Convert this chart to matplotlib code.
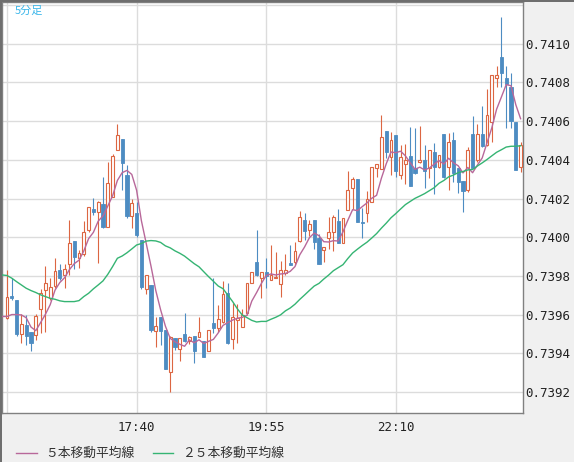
import numpy as np
import pandas as pd
import matplotlib
matplotlib.use('Agg')
from matplotlib import pyplot as plt
from matplotlib.lines import Line2D

# 5-minute candles, 15:25 .. 00:20 (108 bars)
opens = [
    0.739581, 0.739696, 0.739676, 0.739500, 0.739547, 0.739509, 0.739495, 0.739627, 0.739727, 0.739684,
    0.739750, 0.739831, 0.739802, 0.739860, 0.739981, 0.739891, 0.739912, 0.740038, 0.740144, 0.740132,
    0.740172, 0.740055, 0.740210, 0.740451, 0.740508, 0.740322, 0.740112, 0.740127, 0.739986, 0.739731,
    0.739753, 0.739517, 0.739586, 0.739521, 0.739305, 0.739478, 0.739421, 0.739500, 0.739465, 0.739490,
    0.739483, 0.739465, 0.739409, 0.739555, 0.739529, 0.739564, 0.739710, 0.739472, 0.739572, 0.739534,
    0.739607, 0.739762, 0.739870, 0.739787, 0.739818, 0.739778, 0.739790, 0.739756, 0.739813, 0.739865,
    0.739873, 0.739980, 0.740089, 0.740035, 0.740089, 0.739997, 0.739933, 0.739997, 0.740025, 0.740083,
    0.739968, 0.740139, 0.740252, 0.740300, 0.740080, 0.740123, 0.740180, 0.740356, 0.740350, 0.740549,
    0.740416, 0.740528, 0.740321, 0.740378, 0.740419, 0.740356, 0.740390, 0.740399, 0.740356, 0.740442,
    0.740361, 0.740533, 0.740364, 0.740502, 0.740356, 0.740290, 0.740244, 0.740533, 0.740399, 0.740536,
    0.740476, 0.740597, 0.740821, 0.740933, 0.740821, 0.740778, 0.740597, 0.740361,
]
highs = [
    0.739831, 0.739791, 0.739676, 0.739602, 0.739598, 0.739509, 0.739602, 0.739733, 0.739851, 0.739788,
    0.739891, 0.739862, 0.739862, 0.740089, 0.739981, 0.739934, 0.740084, 0.740155, 0.740205, 0.740187,
    0.740313, 0.740391, 0.740429, 0.740585, 0.740508, 0.740374, 0.740196, 0.740184, 0.739986, 0.739803,
    0.739753, 0.739586, 0.739586, 0.739521, 0.739489, 0.739481, 0.739478, 0.739607, 0.739491, 0.739490,
    0.739589, 0.739465, 0.739521, 0.739788, 0.739650, 0.739774, 0.739762, 0.739658, 0.739655, 0.739627,
    0.739762, 0.739822, 0.740037, 0.739821, 0.739890, 0.739959, 0.739925, 0.739877, 0.739911, 0.739959,
    0.739973, 0.740135, 0.740125, 0.740089, 0.740089, 0.740014, 0.739951, 0.740106, 0.740114, 0.740145,
    0.740097, 0.740342, 0.740313, 0.740300, 0.740149, 0.740238, 0.740364, 0.740376, 0.740631, 0.740549,
    0.740544, 0.740528, 0.740476, 0.740481, 0.740568, 0.740562, 0.740574, 0.740476, 0.740450, 0.740485,
    0.740424, 0.740533, 0.740540, 0.740545, 0.740356, 0.740290, 0.740468, 0.740626, 0.740585, 0.740678,
    0.740767, 0.740838, 0.740885, 0.741136, 0.740885, 0.740847, 0.740597, 0.740493,
]
lows = [
    0.739578, 0.739676, 0.739491, 0.739452, 0.739443, 0.739409, 0.739469, 0.739503, 0.739512, 0.739676,
    0.739736, 0.739779, 0.739739, 0.739805, 0.739836, 0.739839, 0.739905, 0.740029, 0.740115, 0.739865,
    0.740046, 0.740055, 0.740210, 0.740451, 0.740244, 0.740098, 0.740046, 0.740000, 0.739731, 0.739707,
    0.739512, 0.739434, 0.739443, 0.739317, 0.739202, 0.739417, 0.739362, 0.739460, 0.739448, 0.739348,
    0.739483, 0.739383, 0.739409, 0.739507, 0.739512, 0.739555, 0.739448, 0.739421, 0.739452, 0.739534,
    0.739598, 0.739762, 0.739800, 0.739684, 0.739739, 0.739778, 0.739787, 0.739692, 0.739804, 0.739856,
    0.739856, 0.739973, 0.739985, 0.740008, 0.739939, 0.739859, 0.739873, 0.739939, 0.739928, 0.739968,
    0.739968, 0.740139, 0.740145, 0.740077, 0.739997, 0.740077, 0.740180, 0.740313, 0.740350, 0.740411,
    0.740321, 0.740312, 0.740299, 0.740275, 0.740266, 0.740326, 0.740385, 0.740252, 0.740304, 0.740223,
    0.740356, 0.740304, 0.740244, 0.740287, 0.740226, 0.740132, 0.740235, 0.740356, 0.740390, 0.740468,
    0.740471, 0.740493, 0.740774, 0.740774, 0.740562, 0.740562, 0.740347, 0.740338,
]
closes = [
    0.739693, 0.739684, 0.739500, 0.739550, 0.739491, 0.739452, 0.739590, 0.739710, 0.739762, 0.739741,
    0.739826, 0.739788, 0.739836, 0.739969, 0.739895, 0.739917, 0.740026, 0.740155, 0.740132, 0.740184,
    0.740055, 0.740279, 0.740420, 0.740529, 0.740386, 0.740112, 0.740175, 0.740012, 0.739741, 0.739803,
    0.739521, 0.739543, 0.739517, 0.739317, 0.739486, 0.739434, 0.739478, 0.739465, 0.739483, 0.739409,
    0.739512, 0.739383, 0.739521, 0.739533, 0.739576, 0.739707, 0.739455, 0.739586, 0.739581, 0.739598,
    0.739762, 0.739822, 0.739805, 0.739818, 0.739801, 0.739804, 0.739796, 0.739830, 0.739830, 0.739856,
    0.739928, 0.740102, 0.740032, 0.740068, 0.739977, 0.739859, 0.739947, 0.740025, 0.740102, 0.739968,
    0.740097, 0.740244, 0.740300, 0.740077, 0.740071, 0.740195, 0.740364, 0.740376, 0.740519, 0.740442,
    0.740502, 0.740344, 0.740416, 0.740399, 0.740266, 0.740330, 0.740399, 0.740344, 0.740450, 0.740364,
    0.740424, 0.740309, 0.740493, 0.740333, 0.740287, 0.740240, 0.740450, 0.740356, 0.740531, 0.740471,
    0.740630, 0.740838, 0.740838, 0.740847, 0.740791, 0.740602, 0.740347, 0.740476,
]

# moving-average values at the left edge (they depend on bars before the window)
ma5_head = [0.739590, 0.739600, 0.739600, 0.739598]
ma25_head = [
    0.739802, 0.739788, 0.739770, 0.739753, 0.739736, 0.739724, 0.739714, 0.739702, 0.739693, 0.739684,
    0.739679, 0.739671, 0.739667, 0.739667, 0.739667, 0.739672, 0.739693, 0.739710, 0.739733, 0.739753,
    0.739774, 0.739808, 0.739848, 0.739891,
]

tick_idx = [0, 27, 54, 81]
tick_labels = ['', '17:40', '19:55', '22:10']
y_ticks = [0.7392, 0.7394, 0.7396, 0.7398, 0.7400, 0.7402, 0.7404, 0.7406, 0.7408, 0.7410, 0.7412]

# colours
bull_col = '#dc6642'
bear_col = '#4d8cc2'
ma5_col = '#b8689a'
ma25_col = '#35b473'
grid_col = '#dcdcdc'
frame_col = '#808080'

W, H = 574, 462
fig = plt.figure(figsize=(W / 100, H / 100), dpi=100)
fig.patch.set_facecolor('#f0f0f0')
ax = fig.add_axes([2 / W, (H - 413) / H, 521 / W, 411 / H])
ax.set_facecolor('white')

df = pd.DataFrame({'o': opens, 'h': highs, 'l': lows, 'c': closes})
x = np.arange(len(df))
up = df['c'] >= df['o']

# wicks
ax.vlines(x[up], df['l'][up], df['h'][up], color=bull_col, linewidth=0.8, zorder=2)
ax.vlines(x[~up], df['l'][~up], df['h'][~up], color=bear_col, linewidth=0.8, zorder=2)

# bodies
body_lo = df[['o', 'c']].min(axis=1)
body_h = (df['c'] - df['o']).abs().clip(lower=0.000004)
ax.bar(x[up], body_h[up], bottom=body_lo[up], width=0.62, facecolor='white',
       edgecolor=bull_col, linewidth=0.8, zorder=3)
ax.bar(x[~up], body_h[~up], bottom=body_lo[~up], width=0.7, facecolor=bear_col,
       edgecolor=bear_col, linewidth=0.6, zorder=3)

# moving averages
ma5 = df['c'].rolling(5).mean().to_numpy()
ma5[:len(ma5_head)] = ma5_head
ma25 = df['c'].rolling(25).mean().to_numpy()
ma25[:len(ma25_head)] = ma25_head
ax.plot(np.r_[-1.1, x], np.r_[ma5_head[0], ma5], color=ma5_col, linewidth=1.0, zorder=4)
ax.plot(np.r_[-1.1, x], np.r_[ma25_head[0] + 0.000003, ma25], color=ma25_col, linewidth=1.0, zorder=4)

# axes
ax.set_xlim(-1.04, 107.5)
ax.set_ylim(0.739091, 0.741216)
ax.set_xticks(tick_idx)
ax.set_xticklabels(tick_labels, family='DejaVu Sans Mono')
ax.set_yticks(y_ticks)
ax.set_yticklabels(['{:.4f}'.format(v) for v in y_ticks[:-1]] + [''], family='DejaVu Sans Mono')
ax.yaxis.tick_right()
ax.tick_params(axis='both', length=0, labelsize=9, colors='#222222')
ax.tick_params(axis='y', pad=1.5)
ax.tick_params(axis='x', pad=6)
ax.grid(True, color=grid_col, linewidth=1.0)
ax.set_axisbelow(True)
for s in ax.spines.values():
    s.set_color(frame_col)
    s.set_linewidth(1.0)

# title tag inside the chart
fig.text(15 / W, 1 - 11 / H, '5分足', color='#3ab6ea', fontsize=8,
         family=['Noto Sans CJK JP', 'DejaVu Sans'], va='center', ha='left')

# legend drawn by hand
ly = 1 - 453 / H
fig.add_artist(Line2D([16 / W, 37 / W], [ly, ly], transform=fig.transFigure, color=ma5_col, linewidth=1.0))
fig.text(45 / W, ly, '５本移動平均線', fontsize=9.2, color='#333333',
         family=['Noto Sans CJK JP', 'DejaVu Sans'], va='center', ha='left')
fig.add_artist(Line2D([153 / W, 173 / W], [ly, ly], transform=fig.transFigure, color=ma25_col, linewidth=1.0))
fig.text(182 / W, ly, '２５本移動平均線', fontsize=9.2, color='#333333',
         family=['Noto Sans CJK JP', 'DejaVu Sans'], va='center', ha='left')

# outer frame: 2px left/top, 1px right/bottom
fig.add_artist(Line2D([1 / W, 1 / W], [0, 1], transform=fig.transFigure, color='#6e6e6e', linewidth=1.44))
fig.add_artist(Line2D([0, 1], [1 - 1 / H, 1 - 1 / H], transform=fig.transFigure, color='#6e6e6e', linewidth=1.44))
fig.add_artist(Line2D([1 - 0.5 / W, 1 - 0.5 / W], [0, 1], transform=fig.transFigure, color=frame_col, linewidth=0.72))
fig.add_artist(Line2D([0, 1], [0.5 / H, 0.5 / H], transform=fig.transFigure, color=frame_col, linewidth=0.72))

fig.savefig('out.png', dpi=100, facecolor=fig.get_facecolor())
